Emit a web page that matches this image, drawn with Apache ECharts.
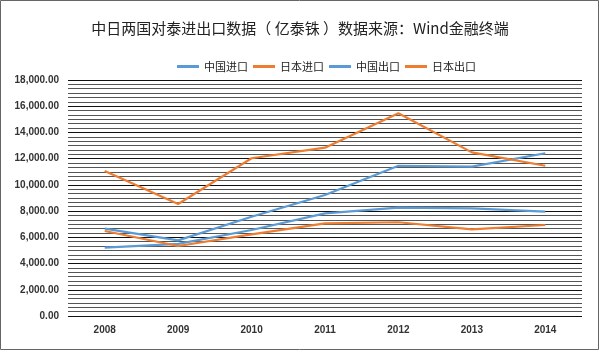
<!DOCTYPE html>
<html>
<head>
<meta charset="utf-8">
<script src="https://cdn.jsdelivr.net/npm/echarts@6/dist/echarts.min.js"></script>
<style>
  html, body { margin: 0; padding: 0; background: #fff; }
  #chart { width: 600px; height: 351px; }
</style>
</head>
<body>
<div id="chart"></div>
<script>
// Years and series (亿泰铢)
const years = ['2008', '2009', '2010', '2011', '2012', '2013', '2014'];
const chinaImport = [5210, 5500, 6560, 7830, 8260, 8210, 7960];
const japanImport = [6480, 5340, 6230, 7070, 7150, 6610, 6940];
const chinaExport = [6660, 5770, 7570, 9230, 11460, 11390, 12410];
const japanExport = [11060, 8540, 12030, 12840, 15460, 12480, 11460];

const BLUE = '#5B9BD5';
const ORANGE = '#ED7D31';
const FONT = '"Noto Sans CJK SC", "Noto Sans", sans-serif';

const fmt = v => v.toLocaleString('en-US', { minimumFractionDigits: 2, maximumFractionDigits: 2 });

const line = (name, color, data) => ({
    name,
    type: 'line',
    data,
    symbol: 'none',
    lineStyle: { color, width: 2.2 },
    itemStyle: { color },
});

const chart = echarts.init(document.getElementById('chart'));
chart.setOption({
    animation: false,
    backgroundColor: '#fff',
    textStyle: { fontFamily: FONT },
    title: {
        text: '中日两国对泰进出口数据（ 亿泰铢 ）数据来源：Wind金融终端',
        left: 'center',
        top: 16,
        textStyle: { fontSize: 15, fontWeight: 'normal', color: '#222', fontFamily: FONT },
    },
    legend: {
        top: 56,
        left: 172,
        itemWidth: 22,
        itemHeight: 3,
        itemGap: 5,
        icon: 'rect',
        textStyle: { fontSize: 11, color: '#222', fontFamily: FONT },
        data: ['中国进口', '日本进口', '中国出口', '日本出口'],
    },
    grid: { left: 68, right: 18, top: 80, bottom: 35, containLabel: false },
    xAxis: {
        type: 'category',
        data: years,
        boundaryGap: true,
        axisLine: { show: false },
        axisTick: { show: false },
        axisLabel: { fontSize: 10, fontWeight: 'bold', color: '#333', margin: 9, fontFamily: 'Liberation Sans, sans-serif' },
    },
    yAxis: {
        type: 'value',
        min: 0,
        max: 18000,
        interval: 2000,
        axisLine: { show: false },
        axisTick: { show: false },
        axisLabel: {
            fontSize: 10,
            fontWeight: 'bold',
            color: '#333',
            margin: 9,
            fontFamily: 'Liberation Sans, sans-serif',
            formatter: fmt,
        },
        splitLine: { show: true, lineStyle: { color: '#111', width: 1 } },
        minorTick: { show: false, splitNumber: 6 },
        minorSplitLine: { show: true, lineStyle: { color: '#555', width: 1 } },
    },
    series: [
        line('中国进口', BLUE, chinaImport),
        line('日本进口', ORANGE, japanImport),
        line('中国出口', BLUE, chinaExport),
        line('日本出口', ORANGE, japanExport),
    ],
    graphic: [{
        type: 'rect',
        shape: { x: 0.5, y: 0.5, width: 598, height: 349 },
        style: { fill: 'none', stroke: '#666', lineWidth: 1 },
        silent: true,
    }],
});
</script>
</body>
</html>
